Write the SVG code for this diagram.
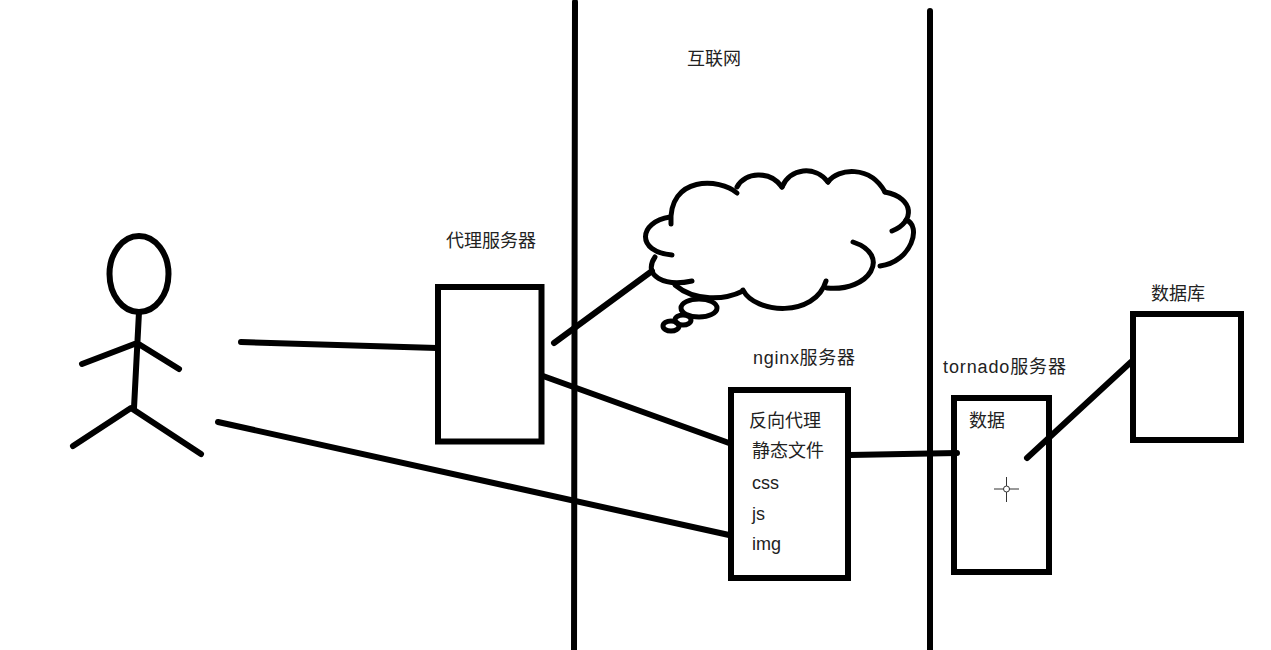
<svg xmlns="http://www.w3.org/2000/svg" width="1271" height="650" viewBox="0 0 1271 650">
<style>
.l{fill:none;stroke:#000;stroke-width:6;stroke-linecap:round;stroke-linejoin:round}
.b{fill:#fff;stroke:#000;stroke-width:6}
.c{fill:none;stroke:#000;stroke-width:5;stroke-linecap:round}
text{font-family:"Liberation Sans","Noto Sans CJK SC",sans-serif;font-size:18px;fill:#222}
</style>
<rect width="1271" height="650" fill="#fff"/>
<g id="boundaries">
<path class="l" d="M575 2L574 650"/>
<path class="l" d="M930 11V650"/>
</g>
<g id="internet-label"><text x="687" y="65">互联网</text></g>
<g id="user">
<ellipse class="l" cx="139" cy="274" rx="29.500" ry="38"/>
<path class="l" d="M139 312L134 408M82 364L137 343L179 369M73 446L131 408L201 454"/>
</g>
<g id="proxy">
<rect class="b" x="438" y="287" width="103.500" height="154.500"/>
<text x="446" y="247">代理服务器</text>
</g>
<g id="cloud">
<path class="c" d="M737 193C720 178 668 175 671 224"/>
<path class="c" d="M670 217C638 222 636 252 672 255"/>
<path class="c" d="M655 257C642 276 665 287 692 281"/>
<path class="c" d="M675 285C695 302 725 300 743 291"/>
<path class="c" d="M743 290C755 314 815 318 826 281"/>
<path class="c" d="M827 288C870 292 892 255 853 242"/>
<path class="c" d="M880 266C912 262 922 225 906 220"/>
<path class="c" d="M892 231C915 222 915 198 885 192"/>
<path class="c" d="M885 192C870 165 838 168 828 182"/>
<path class="c" d="M828 182C815 165 790 168 782 187"/>
<path class="c" d="M782 187C770 170 745 172 737 187"/>
<ellipse class="c" cx="699" cy="308" rx="18" ry="9"/>
<ellipse class="c" cx="683" cy="320" rx="8" ry="5"/>
<ellipse class="c" cx="671" cy="326" rx="8" ry="5"/>
</g>
<g id="nginx">
<rect class="b" x="731" y="390" width="117" height="188"/>
<text x="753" y="364" textLength="102">nginx服务器</text>
<text x="749" y="427">反向代理</text>
<text x="752" y="457">静态文件</text>
<text x="752" y="489">css</text>
<text x="752" y="520">js</text>
<text x="752" y="550">img</text>
</g>
<g id="tornado">
<rect class="b" x="954" y="398" width="95" height="174"/>
<text x="943" y="373" textLength="123">tornado服务器</text>
<text x="969" y="427">数据</text>
<g fill="none" stroke="#333" stroke-width="1"><path d="M994 489H1019M1006.500 477V502"/><circle cx="1006.500" cy="489" r="3" fill="#fff"/></g>
</g>
<g id="database">
<rect class="b" x="1133" y="314" width="108" height="126"/>
<text x="1151" y="300">数据库</text>
</g>
<g id="connectors">
<path class="l" d="M241 342L437 348"/>
<path class="l" d="M218 422L729 535"/>
<path class="l" d="M554 343L652 271"/>
<path class="l" d="M543 376L729 443"/>
<path class="l" d="M850 455L957 453"/>
<path class="l" d="M1027 458L1131 362"/>
</g>
</svg>
